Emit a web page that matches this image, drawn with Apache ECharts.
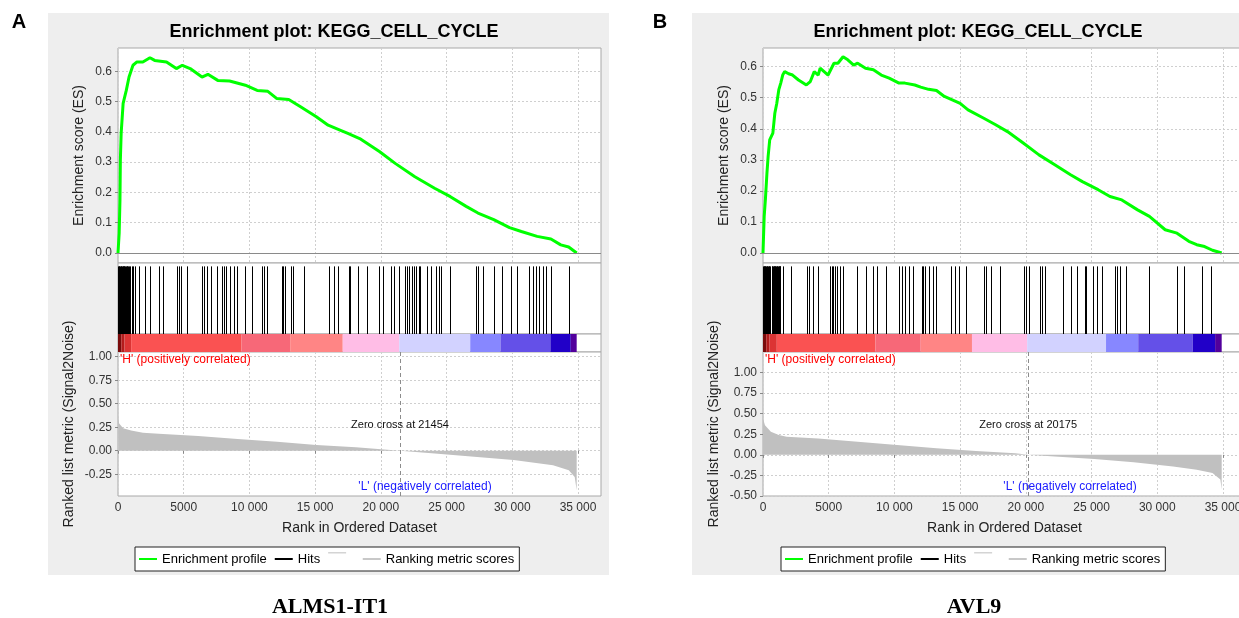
<!DOCTYPE html>
<html>
<head>
<meta charset="utf-8">
<script src="https://cdn.jsdelivr.net/npm/echarts@6/dist/echarts.min.js"></script>
<style>
html, body {margin: 0; padding: 0; background: #fff;}
#chart {width: 1239px; height: 618px;}
</style>
</head>
<body>
<div id="chart"></div>
<script>
// ---- panel A (ALMS1-IT1) ----
var esRankA = [0, 90, 150, 180, 240, 390, 630, 840, 1140, 1440, 1890, 2430, 2790, 3690, 4440, 4890, 5490, 6390, 6840, 7590,
    8490, 9690, 10590, 11400, 12090, 12990, 13890, 15090, 15990, 16890, 17490, 18390, 19890, 21090, 22590, 24090, 25290,
    26490, 27390, 28590, 29790, 30690, 31890, 32940, 33690, 34290, 34900];
var esValA = [0, 0.066, 0.175, 0.307, 0.395, 0.494, 0.537, 0.581, 0.62, 0.631, 0.631, 0.645, 0.636, 0.631, 0.609, 0.62, 0.609, 0.581, 0.59, 0.57,
    0.568, 0.554, 0.537, 0.534, 0.51, 0.507, 0.483, 0.45, 0.422, 0.406, 0.395, 0.378, 0.335, 0.296, 0.252, 0.214, 0.186,
    0.154, 0.132, 0.11, 0.084, 0.071, 0.055, 0.046, 0.027, 0.02, 0];
var hitsA = [15, 70, 105, 160, 210, 245, 310, 345, 395, 460, 490, 555, 600, 670, 715, 780, 820, 890,
    1050, 1170, 1290, 1560, 2040, 2430, 3090, 3450, 4470, 4650, 4830, 5250, 6390, 6570, 6750, 7110, 7530, 7890, 8070,
    8250, 8490, 8790, 9090, 9690, 10200, 10950, 11130, 11310, 12450, 12570, 12690, 13170, 13350, 14190, 16050, 16470,
    16710, 17550, 17670, 18270, 18930, 19890, 20190, 20790, 20970, 21390, 21810, 21990, 22170, 22350, 22530, 22710,
    22890, 23010, 23490, 23790, 24210, 24390, 24570, 25230, 27210, 27390, 27750, 28590, 29190, 29910, 30330, 31290,
    31590, 31830, 32070, 32310, 32550, 32910, 34290];
var metricRankA = [0, 30, 90, 390, 1000, 1900, 3100, 6100, 9100, 12100, 15100, 18100, 21454, 24100, 27100, 30100, 33100, 34300, 34750, 34900];
var metricValA = [0.38, 0.33, 0.29, 0.24, 0.214, 0.19, 0.18, 0.157, 0.125, 0.096, 0.06, 0.036, 0, -0.029, -0.064, -0.1, -0.154, -0.207, -0.28, -0.42];
var bandEdgesA = [0, 250, 500, 1000, 9400, 13100, 17100, 21400, 26800, 29100, 32900, 34450, 34900];
var zeroCrossA = 21454;

// ---- panel B (AVL9) ----
var esRankB = [0, 90, 180, 300, 390, 510, 750, 900, 1050, 1200, 1350, 1500, 1650, 1950, 2250, 2700, 3300, 3600, 3900, 4200,
    4350, 4650, 4950, 5400, 5700, 6090, 6450, 6900, 7200, 7800, 8400, 9000, 9600, 10350, 10800, 11550, 12000, 12600,
    13200, 13800, 14400, 15000, 15600, 16800, 17700, 18600, 19800, 21000, 22200, 23400, 24300, 25500, 26400, 27300,
    28500, 29400, 30600, 31500, 32400, 33000, 33600, 34200, 34900];
var esValB = [0, 0.118, 0.171, 0.257, 0.311, 0.364, 0.386, 0.45, 0.482, 0.525, 0.547, 0.573, 0.584, 0.577, 0.573, 0.557, 0.541, 0.552, 0.584, 0.573,
    0.595, 0.584, 0.573, 0.611, 0.611, 0.632, 0.622, 0.605, 0.611, 0.595, 0.59, 0.573, 0.563, 0.547, 0.547, 0.541, 0.534, 0.527,
    0.523, 0.504, 0.493, 0.482, 0.461, 0.434, 0.413, 0.391, 0.354, 0.316, 0.284, 0.252, 0.23, 0.204, 0.182, 0.171,
    0.139, 0.118, 0.075, 0.064, 0.038, 0.027, 0.021, 0.009, 0];
var hitsB = [10, 55, 95, 150, 190, 240, 285, 330, 380, 420, 470, 520, 680, 720, 770, 810, 860, 900, 950, 990, 1040, 1090,
    1130, 1180, 1220, 1270, 1320, 1500, 2100, 3360, 3480, 3780, 4200, 5100, 5220, 5340, 5460, 5640, 5880, 6060, 7140,
    7860, 8340, 8700, 9360, 10350, 10560, 10800, 11100, 11400, 12060, 12180, 12360, 12660, 12900, 13140, 14340, 14580,
    14940, 15480, 16800, 16980, 17340, 18000, 19860, 20040, 20220, 21060, 21240, 21480, 22800, 23400, 23880, 24480,
    24600, 25080, 25440, 25800, 26760, 26940, 27180, 27600, 29400, 31500, 32000, 33400, 34100];
var metricRankB = [0, 150, 600, 1200, 1800, 4200, 7200, 10200, 13200, 16200, 19200, 20175, 22200, 25200, 28200, 31200, 33000, 34200, 34800, 34900];
var metricValB = [0.44, 0.36, 0.28, 0.24, 0.22, 0.2, 0.16, 0.12, 0.08, 0.048, 0.02, 0, -0.02, -0.05, -0.09, -0.14, -0.18, -0.22, -0.3, -0.42];
var bandEdgesB = [0, 250, 500, 1050, 8550, 12000, 15900, 20100, 26100, 28550, 32700, 34400, 34900];
var zeroCrossB = 20175;

// shared ticks
var rankTicks = [0, 5000, 10000, 15000, 20000, 25000, 30000, 35000];
var esTicks = [0, 0.1, 0.2, 0.3, 0.4, 0.5, 0.6];
var metricTicksA = [-0.25, 0, 0.25, 0.5, 0.75, 1.0];
var metricTicksB = [-0.5, -0.25, 0, 0.25, 0.5, 0.75, 1.0];
var bandColors = ['#7a0c0c', '#b41c1c', '#dc3434', '#fa5252', '#f76878', '#ff8585', '#ffbde6', '#d2d2ff', '#8787ff', '#6450e8', '#2100c8', '#52009c'];

var FONT = 'Liberation Sans';
// legend icons: an 18x14 box, line in the middle (or raised for the blank entry)
var ICON_MID = 'path://M0,6H18V8H0Z M0,0H0.01V0.01H0Z M0,14H0.01V14.01H0Z';
var ICON_TOP = 'path://M0,0H18V1.5H0Z M0,14H0.01V14.01H0Z';

var chart = echarts.init(document.getElementById('chart'), null, {renderer: 'canvas'});

function zip(a, b) {
    var out = [];
    for (var i = 0; i < a.length; i++) out.push([a[i], b[i]]);
    return out;
}

function bands(edges) {
    var out = [];
    for (var i = 0; i < edges.length - 1; i++) out.push([edges[i], edges[i + 1], i]);
    return out;
}

function renderHit(params, api) {
    var p0 = api.coord([api.value(0), 0]);
    var p1 = api.coord([api.value(0), 1]);
    var x = Math.round(p0[0]) + 0.5;
    return {
        type: 'line',
        shape: {x1: x, y1: p0[1], x2: x, y2: p1[1]},
        style: {stroke: '#000', lineWidth: 1}
    };
}

function renderBand(params, api) {
    var p0 = api.coord([api.value(0), 1]);
    var p1 = api.coord([api.value(1), 0]);
    return {
        type: 'rect',
        shape: {x: p0[0], y: p0[1], width: p1[0] - p0[0], height: p1[1] - p0[1]},
        style: {fill: bandColors[api.value(2)]}
    };
}

function rankLabel(v) {
    return v >= 10000 ? Math.floor(v / 1000) + ' 000' : String(v);
}

var dash = {show: true, lineStyle: {color: '#cfcfcf', type: [2, 2], width: 1}};

function buildPanel(p, k, opt) {
    var b = k * 4;
    var gridBase = {left: p.left, width: 483, show: true, backgroundColor: '#fff', borderColor: '#a8a8a8', borderWidth: 1, outerBoundsMode: 'none', containLabel: false};
    opt.grid.push(
        Object.assign({top: 48, height: 215}, gridBase),
        Object.assign({top: 263, height: 71}, gridBase),
        Object.assign({top: 334, height: 18}, gridBase),
        Object.assign({top: 352, height: 144}, gridBase)
    );
    for (var i = 0; i < 4; i++) {
        var isMetric = i === 3;
        opt.xAxis.push({
            type: 'value', gridIndex: b + i, min: 0, max: 36750,
            axisLine: {show: false},
            axisTick: {show: isMetric, length: 3, lineStyle: {color: '#888'}, customValues: rankTicks},
            axisLabel: {show: isMetric, customValues: rankTicks, formatter: rankLabel, color: '#333', fontSize: 12, margin: 6, fontFamily: FONT},
            splitLine: (i === 0 || isMetric) ? dash : {show: false},
            name: isMetric ? 'Rank in Ordered Dataset' : '',
            nameLocation: 'middle', nameGap: 25, nameMoveOverlap: false,
            nameTextStyle: {fontSize: 14, color: '#222', fontFamily: FONT}
        });
    }
    opt.yAxis.push({
        type: 'value', gridIndex: b, min: p.esMin, max: p.esMax,
        axisLine: {show: false},
        axisTick: {show: true, length: 3, lineStyle: {color: '#888'}, customValues: esTicks},
        axisLabel: {customValues: esTicks, formatter: function (v) { return v.toFixed(1); }, color: '#333', fontSize: 12, margin: 6, fontFamily: FONT},
        splitLine: dash,
        name: 'Enrichment score (ES)', nameLocation: 'middle', nameGap: 32, nameMoveOverlap: false,
        nameTextStyle: {fontSize: 14, color: '#222', fontFamily: FONT}
    });
    opt.yAxis.push({type: 'value', gridIndex: b + 1, min: 0, max: 1.05, show: false, splitLine: {show: false}});
    opt.yAxis.push({type: 'value', gridIndex: b + 2, min: 0, max: 1, show: false, splitLine: {show: false}});
    opt.yAxis.push({
        type: 'value', gridIndex: b + 3, min: p.mMin, max: p.mMax,
        axisLine: {show: false},
        axisTick: {show: true, length: 3, lineStyle: {color: '#888'}, customValues: p.mTicks},
        axisLabel: {customValues: p.mTicks, formatter: function (v) { return v.toFixed(2); }, color: '#333', fontSize: 12, margin: 6, fontFamily: FONT},
        splitLine: dash,
        name: 'Ranked list metric (Signal2Noise)', nameLocation: 'middle', nameGap: 42, nameMoveOverlap: false,
        nameTextStyle: {fontSize: 14, color: '#222', fontFamily: FONT}
    });

    opt.series.push({
        name: 'Enrichment profile', type: 'line', xAxisIndex: b, yAxisIndex: b,
        data: zip(p.esRank, p.esVal), showSymbol: false, color: '#00ff00',
        lineStyle: {color: '#00ff00', width: 3}, z: 3, silent: true,
        markLine: {silent: true, symbol: 'none', data: [{yAxis: 0}], label: {show: false},
            lineStyle: {color: '#8a8a8a', width: 1, type: 'solid'}}
    });
    opt.series.push({
        name: 'Hits', type: 'custom', xAxisIndex: b + 1, yAxisIndex: b + 1,
        data: p.hits.map(function (h) { return [h]; }), encode: {x: 0},
        renderItem: renderHit, color: '#000', silent: true
    });
    opt.series.push({
        type: 'custom', xAxisIndex: b + 2, yAxisIndex: b + 2,
        data: bands(p.bandEdges), encode: {x: [0, 1]},
        renderItem: renderBand, silent: true
    });
    opt.series.push({
        name: 'Ranking metric scores', type: 'line', xAxisIndex: b + 3, yAxisIndex: b + 3,
        data: zip(p.mRank, p.mVal), showSymbol: false, color: '#c8c8c8',
        lineStyle: {width: 0}, areaStyle: {color: '#c0c0c0', opacity: 1}, silent: true,
        markLine: {silent: true, symbol: 'none', data: [{xAxis: p.zc}], label: {show: false},
            lineStyle: {color: '#8c8c8c', width: 1, type: [4, 3]}},
        markPoint: {silent: true, symbol: 'circle', symbolSize: 1, itemStyle: {color: 'rgba(0,0,0,0)'},
            data: [{coord: [p.zc, p.zcLabelY]}],
            label: {show: true, position: 'inside', formatter: 'Zero cross at ' + p.zc, color: '#111', fontSize: 11, fontFamily: FONT}}
    });
    opt.series.push({
        name: ' ', type: 'line', xAxisIndex: b, yAxisIndex: b, data: [], color: '#d4d4d4'
    });

    opt.legend.push({
        left: p.legendLeft, top: 547, orient: 'horizontal',
        data: [
            {name: 'Enrichment profile', icon: ICON_MID},
            {name: 'Hits', icon: ICON_MID},
            {name: ' ', icon: ICON_TOP},
            {name: 'Ranking metric scores', icon: ICON_MID}
        ],
        itemWidth: 18, itemHeight: 14, itemGap: 8, selectedMode: false,
        borderColor: '#222', borderWidth: 1, borderRadius: 0, backgroundColor: '#fff',
        padding: [5, 5, 5, 4],
        textStyle: {fontSize: 13, color: '#000', fontFamily: FONT}
    });
    opt.title.push({
        text: 'Enrichment plot: KEGG_CELL_CYCLE', left: p.titleX, top: 18, textAlign: 'center',
        textStyle: {fontSize: 18, fontWeight: 'bold', color: '#000', fontFamily: FONT}
    });
    opt.graphic.push(
        {type: 'rect', z: -10, shape: {x: p.boxX, y: 13, width: p.boxW, height: 562}, style: {fill: '#eeeeee'}},
        {type: 'text', x: p.letterX, y: 22, style: {text: p.letter, font: 'bold 20px "Liberation Sans"', fill: '#000', textAlign: 'center', textVerticalAlign: 'middle'}},
        {type: 'text', x: p.left + 2, y: 360, z: 10, style: {text: "'H' (positively correlated)", font: '12px "Liberation Sans"', fill: '#ff0000', textAlign: 'left', textVerticalAlign: 'middle'}},
        {type: 'text', x: p.left + 307, y: 487, z: 10, style: {text: "'L' (negatively correlated)", font: '12px "Liberation Sans"', fill: '#1a1aff', textAlign: 'center', textVerticalAlign: 'middle'}},
        {type: 'text', x: p.titleX + 1, y: 607, style: {text: p.gene, font: 'bold 22px "Liberation Serif"', fill: '#000', textAlign: 'center', textVerticalAlign: 'middle'}}
    );
}

var option = {
    animation: false,
    backgroundColor: '#fff',
    textStyle: {fontFamily: FONT},
    title: [], legend: [], grid: [], xAxis: [], yAxis: [], series: [], graphic: []
};

buildPanel({
    left: 118, esMin: -0.033, esMax: 0.677, mMin: -0.482, mMax: 1.05, mTicks: metricTicksA,
    esRank: esRankA, esVal: esValA, hits: hitsA, mRank: metricRankA, mVal: metricValA,
    bandEdges: bandEdgesA, zc: zeroCrossA, zcLabelY: 0.273,
    legendLeft: 135, titleX: 329, boxX: 48, boxW: 561, letter: 'A', letterX: 19, gene: 'ALMS1-IT1'
}, 0, option);

buildPanel({
    left: 763, esMin: -0.032, esMax: 0.66, mMin: -0.5, mMax: 1.25, mTicks: metricTicksB,
    esRank: esRankB, esVal: esValB, hits: hitsB, mRank: metricRankB, mVal: metricValB,
    bandEdges: bandEdgesB, zc: zeroCrossB, zcLabelY: 0.366,
    legendLeft: 781, titleX: 973, boxX: 692, boxW: 560, letter: 'B', letterX: 660, gene: 'AVL9'
}, 1, option);

if (option && typeof option === 'object') {
    chart.setOption(option, true);
}
</script>
</body>
</html>
